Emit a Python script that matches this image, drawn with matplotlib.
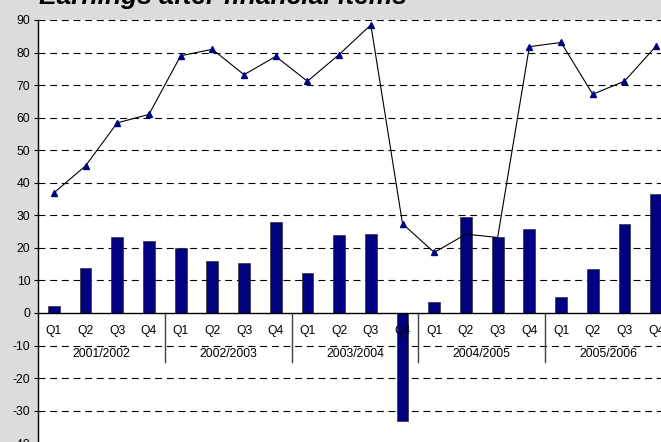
import matplotlib.pyplot as plt

plt.rcParams['font.family'] = ['Liberation Sans', 'DejaVu Sans']
plt.rcParams['lines.scale_dashes'] = False
plt.rcParams['axes.unicode_minus'] = False  # original uses plain hyphen: -10, -20 ...

# data
aar = ["2001/2002", "2002/2003", "2003/2004", "2004/2005", "2005/2006"]
kvartal = ["Q1", "Q2", "Q3", "Q4"]
stolper = [2.1, 13.9, 23.3, 22.2,
           19.9, 16.0, 15.3, 27.8,
           12.3, 24.1, 24.4, -33.1,
           3.4, 29.4, 23.2, 25.9,
           4.9, 13.4, 27.2, 36.7]
linje = [36.9, 45.2, 58.4, 61.0,
         79.0, 81.0, 73.2, 78.8,
         71.2, 79.4, 88.5, 27.4,
         18.6, 24.2, 23.2, 81.8,
         83.1, 67.2, 71.2, 82.0]
uten_markor = [13, 14]  # these two points have no marker in the original

navy = "#000080"
bakgrunn = "#dcdcdc"

fig = plt.figure(figsize=(6.61, 4.42), dpi=100, facecolor=bakgrunn)
ax = fig.add_axes([38/661, -1.2/442, 634/661, 423.2/442])
ax.set_facecolor("white")

x = list(range(len(stolper)))

# grid first so it stays behind the bars
for v in range(-40, 100, 10):
    if v == 0:
        continue
    ax.axhline(v, color="black", lw=0.8, dashes=(5, 3.4), zorder=0)

ax.bar(x, stolper, width=0.37, color=navy, edgecolor="#333333", lw=0.5, zorder=2)
ax.axhline(0, color="black", lw=1, zorder=3)

ax.plot(x, linje, color="black", lw=0.8, zorder=4)
merket = [i for i in x if i not in uten_markor]
ax.plot(merket, [linje[i] for i in merket], ls="none", marker="^",
        ms=5, color=navy, zorder=5)

# category labels sit inside the plot, under the zero line
for i in x:
    ax.text(i, -5.5, kvartal[i % 4], ha="center", va="center", fontsize=8.7, zorder=6)
for g, navn in enumerate(aar):
    ax.text(g*4 + 1.5, -12.6, navn, ha="center", va="center", fontsize=8.7, zorder=6)
    if g > 0:
        ax.plot([g*4 - 0.5, g*4 - 0.5], [0, -15], color="#404040", lw=1, zorder=3)

ax.set_xlim(-0.5, 19.5)
ax.set_ylim(-40, 90)
ax.set_yticks(range(-40, 100, 10))
ax.set_xticks([])
ax.tick_params(axis="y", length=3, width=0.8, pad=2.5, labelsize=8.7)
for s in ["top", "right", "bottom"]:
    ax.spines[s].set_visible(False)
ax.spines["left"].set_linewidth(1)

fig.text(39/661, 1 - 4/442, "Earnings after financial items", fontsize=19,
         fontweight="bold", fontstyle="italic", va="baseline", ha="left")

fig.savefig("out.png", dpi=100, facecolor=bakgrunn)
